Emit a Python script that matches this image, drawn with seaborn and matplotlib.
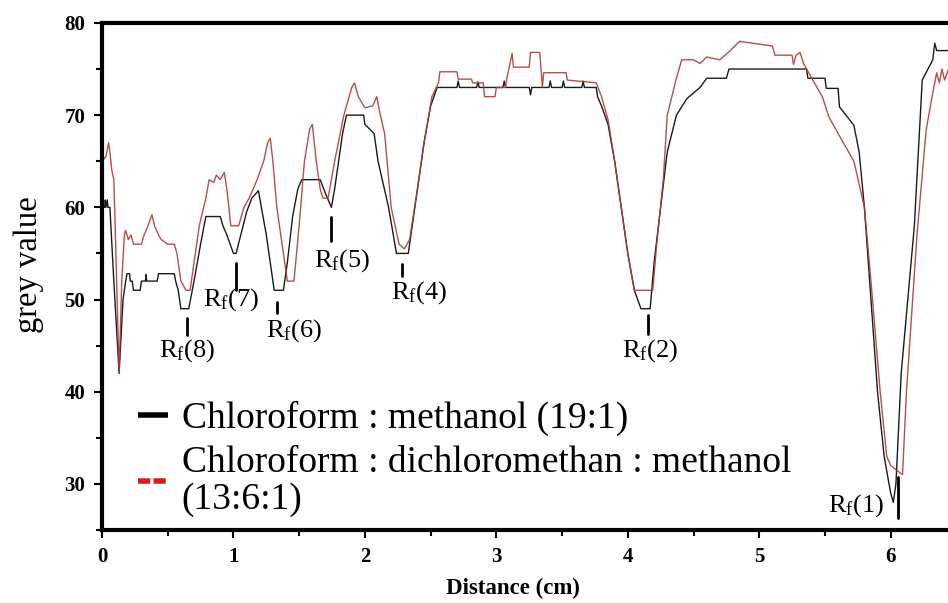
import numpy as np
import pandas as pd
import matplotlib
matplotlib.use("Agg")
import matplotlib.pyplot as plt
from matplotlib.lines import Line2D
from matplotlib.ticker import MultipleLocator
import seaborn as sns

# ---------------- data ----------------
black_x = [0, 0.02, 0.025, 0.03, 0.04, 0.045, 0.06, 0.09, 0.13, 0.16, 0.18, 0.19, 0.21, 0.215, 0.23, 0.24,
           0.29, 0.3, 0.33, 0.335, 0.34, 0.42, 0.43, 0.55, 0.56, 0.58, 0.6, 0.66, 0.7, 0.75, 0.79, 0.9, 0.92,
           0.95, 1.0, 1.02, 1.1, 1.14, 1.19, 1.2, 1.25, 1.31, 1.38, 1.41, 1.45, 1.49, 1.52, 1.66, 1.7, 1.745,
           1.77, 1.83, 1.86, 1.99, 2.0, 2.07, 2.1, 2.18, 2.24, 2.33, 2.38, 2.45, 2.5, 2.55, 2.7, 2.71, 2.72,
           2.85, 2.86, 2.87, 3.05, 3.06, 3.07, 3.25, 3.26, 3.27, 3.4, 3.41, 3.42, 3.5, 3.51, 3.52, 3.65, 3.66,
           3.67, 3.76, 3.77, 3.8, 3.85, 3.9, 3.95, 4.0, 4.05, 4.1, 4.17, 4.2, 4.25, 4.3, 4.37, 4.45, 4.55, 4.6,
           4.75, 4.77, 5.36, 5.37, 5.5, 5.51, 5.6, 5.61, 5.72, 5.76, 5.8, 5.85, 5.9, 5.95, 6.0, 6.02, 6.04,
           6.08, 6.13, 6.18, 6.24, 6.32, 6.335, 6.35, 6.44]
black_y = [60, 60, 60.8, 60, 60.8, 60, 60, 52, 42, 50, 52, 52.8, 52.8, 52, 52, 51,
           51, 52, 52, 52.7, 52, 52, 52.8, 52.8, 52, 51, 49, 49, 52, 56, 59, 59, 58,
           57, 55, 55, 59.5, 61, 61.8, 61, 57, 51, 51, 54, 59, 62, 63, 63, 61.5, 60,
           62, 68, 70, 70, 69, 68, 65, 60, 55, 55, 60, 67, 71, 73, 73, 73.7, 73,
           73, 73.6, 73, 73, 73.7, 73, 73, 72.2, 73, 73, 73.7, 73, 73, 73.7, 73, 73, 73.7,
           73, 73, 72, 71, 69, 65, 60, 55, 51, 49, 49, 54, 60, 66, 70, 71.8, 73, 74,
           74, 75, 75, 74, 74, 72.9, 72.9, 70.9, 68.9, 66, 60, 50, 40, 33, 29, 28, 30,
           42, 50, 58, 73.8, 76, 77.8, 77, 77]

red_x = [0, 0.03, 0.05, 0.06, 0.075, 0.09, 0.1, 0.13, 0.15, 0.17, 0.18, 0.2, 0.22, 0.24, 0.3, 0.32, 0.35,
         0.38, 0.4, 0.43, 0.45, 0.5, 0.55, 0.57, 0.6, 0.64, 0.67, 0.7, 0.74, 0.79, 0.815, 0.85, 0.87, 0.9,
         0.93, 0.95, 0.98, 1.04, 1.08, 1.12, 1.18, 1.23, 1.26, 1.28, 1.3, 1.33, 1.38, 1.41, 1.46, 1.5, 1.54,
         1.58, 1.6, 1.63, 1.66, 1.68, 1.72, 1.77, 1.84, 1.9, 1.92, 1.95, 2.0, 2.06, 2.09, 2.11, 2.15, 2.2,
         2.26, 2.3, 2.34, 2.4, 2.45, 2.51, 2.56, 2.57, 2.7, 2.71, 2.81, 2.82, 2.9, 2.91, 2.99, 3.0, 3.07,
         3.08, 3.12, 3.13, 3.25, 3.26, 3.33, 3.34, 3.35, 3.36, 3.53, 3.54, 3.76, 3.8, 3.85, 3.9, 3.95, 4.0,
         4.05, 4.19, 4.22, 4.27, 4.3, 4.37, 4.41, 4.5, 4.55, 4.6, 4.7, 4.78, 4.85, 5.1, 5.12, 5.25, 5.26,
         5.28, 5.31, 5.34, 5.4, 5.48, 5.53, 5.6, 5.72, 5.8, 5.85, 5.92, 5.97, 6.0, 6.09, 6.12, 6.2, 6.27,
         6.32, 6.35, 6.37, 6.39, 6.41, 6.44]
red_y = [65, 65.5, 67, 66, 64, 63, 58, 42, 52, 57, 57.5, 56.5, 57, 56, 56, 57, 58,
         59.2, 58, 57, 56.5, 56, 56, 55, 52, 51, 51, 54, 58, 61, 63, 62.7, 63.5, 63,
         63.8, 62, 58, 58, 60, 61, 63, 65, 67, 67.5, 65, 60, 55, 52, 52, 58, 65,
         68.5, 69, 65, 62, 61, 61, 65, 70, 73, 73.5, 72, 70.8, 71, 72, 70.5, 68, 60,
         56, 55.5, 56.5, 62, 67, 72, 73.5, 74.7, 74.7, 73.9, 73.9, 73.5, 73.5, 72, 72, 73, 73,
         74, 76.7, 75.2, 75.2, 76.8, 76.8, 75, 73, 74.6, 74.6, 73.8, 73.5, 72, 69.5, 65, 60, 55,
         51, 51, 56, 63, 70, 74, 76, 76, 75.6, 76.3, 76, 77, 78, 77.5, 76.5, 76.5, 75.5,
         76.5, 76.8, 75.5, 74, 72, 69.8, 68, 65, 60, 52, 40, 33, 32, 31, 40, 57, 68.4,
         72.4, 74.6, 73.5, 75, 73.8, 75]

series_labels = ["Chloroform : methanol (19:1)",
                 "Chloroform : dichloromethan : methanol\n(13:6:1)"]

rf_names = ["8", "7", "6", "5", "4", "2", "1"]
rf_x = [0.647, 1.02, 1.333, 1.744, 2.285, 4.15, 6.055]
rf_tick_top = [48.0, 54.0, 49.7, 58.9, 53.9, 48.3, 30.7]
rf_tick_bottom = [46.1, 51.0, 48.5, 56.4, 52.6, 46.3, 26.3]
rf_label_x = [0.647, 0.98, 1.46, 1.83, 2.41, 4.17, 5.74]
rf_label_y = [44.5, 50.0, 46.6, 54.2, 50.7, 44.5, 27.6]

x_ticks = [0, 1, 2, 3, 4, 5, 6]
y_ticks = [30, 40, 50, 60, 70, 80]

# ---------------- styling ----------------
sns.set_theme(style="ticks")
plt.rcParams["font.family"] = ["Liberation Serif", "DejaVu Serif"]
plt.rcParams["mathtext.fontset"] = "custom"
plt.rcParams["mathtext.rm"] = "Liberation Serif"
plt.rcParams["mathtext.it"] = "Liberation Serif:italic"
for key in ["text.color", "axes.labelcolor", "xtick.color", "ytick.color", "xtick.labelcolor", "ytick.labelcolor"]:
    plt.rcParams[key] = "black"

fig = plt.figure(figsize=(9.48, 6.03), dpi=100)
ax = fig.add_axes([0.1076, 0.121, 0.8924, 0.841])

df_b = pd.DataFrame({"x": black_x, "y": black_y})
df_r = pd.DataFrame({"x": red_x, "y": red_y})
sns.lineplot(data=df_b, x="x", y="y", ax=ax, color="#1a1a1a", lw=1.0, sort=False, estimator=None)
sns.lineplot(data=df_r, x="x", y="y", ax=ax, color="#b03a3a", lw=1.0, sort=False, estimator=None, alpha=0.9)

ax.set_xlim(0, 6.436)
ax.set_ylim(25, 80)
ax.set_xticks(x_ticks)
ax.set_yticks(y_ticks)
ax.xaxis.set_minor_locator(MultipleLocator(0.5))
ax.yaxis.set_minor_locator(MultipleLocator(5))

for s in ["left", "bottom", "top"]:
    ax.spines[s].set_linewidth(3.0)
    ax.spines[s].set_color("black")
ax.spines["right"].set_visible(False)

ax.tick_params(axis="both", which="major", direction="out", length=6, width=1.5, color="black",
               labelsize=15, pad=6, labelcolor="black")
ax.tick_params(axis="both", which="minor", direction="out", length=4, width=1.5, color="black")
ax.tick_params(top=False, right=False, which="both")
for lab in ax.get_xticklabels() + ax.get_yticklabels():
    lab.set_fontweight("bold")

ax.set_ylabel("grey value", fontsize=23.5, color="black")
ax.yaxis.set_label_coords(-0.068, 0.523)
ax.set_xlabel("Distance (cm)", fontsize=16.5, fontweight="bold", color="black")
ax.xaxis.set_label_coords(0.486, -0.094)

# Rf markers
for name, xx, t0, t1, lx, ly in zip(rf_names, rf_x, rf_tick_top, rf_tick_bottom, rf_label_x, rf_label_y):
    ax.plot([xx, xx], [t0, t1], color="black", lw=2.0)
    ax.text(lx, ly, r"R$_\mathrm{f}$(" + name + ")", fontsize=19, ha="center", va="center", color="black")

handles = [Line2D([0], [0], color="black", lw=4, solid_capstyle="butt"),
           Line2D([0], [0], color="#d02020", lw=4, dashes=(2.2, 0.6))]
leg = ax.legend(handles, series_labels, loc="upper left", bbox_to_anchor=(0.043, 0.255),
                frameon=False, fontsize=27, handlelength=0.8, handletextpad=0.35, labelspacing=0.25,
                borderpad=0, borderaxespad=0, labelcolor="black")
for t in leg.get_texts():
    t.set_linespacing(1.1)

fig.savefig("out.png", dpi=100)
